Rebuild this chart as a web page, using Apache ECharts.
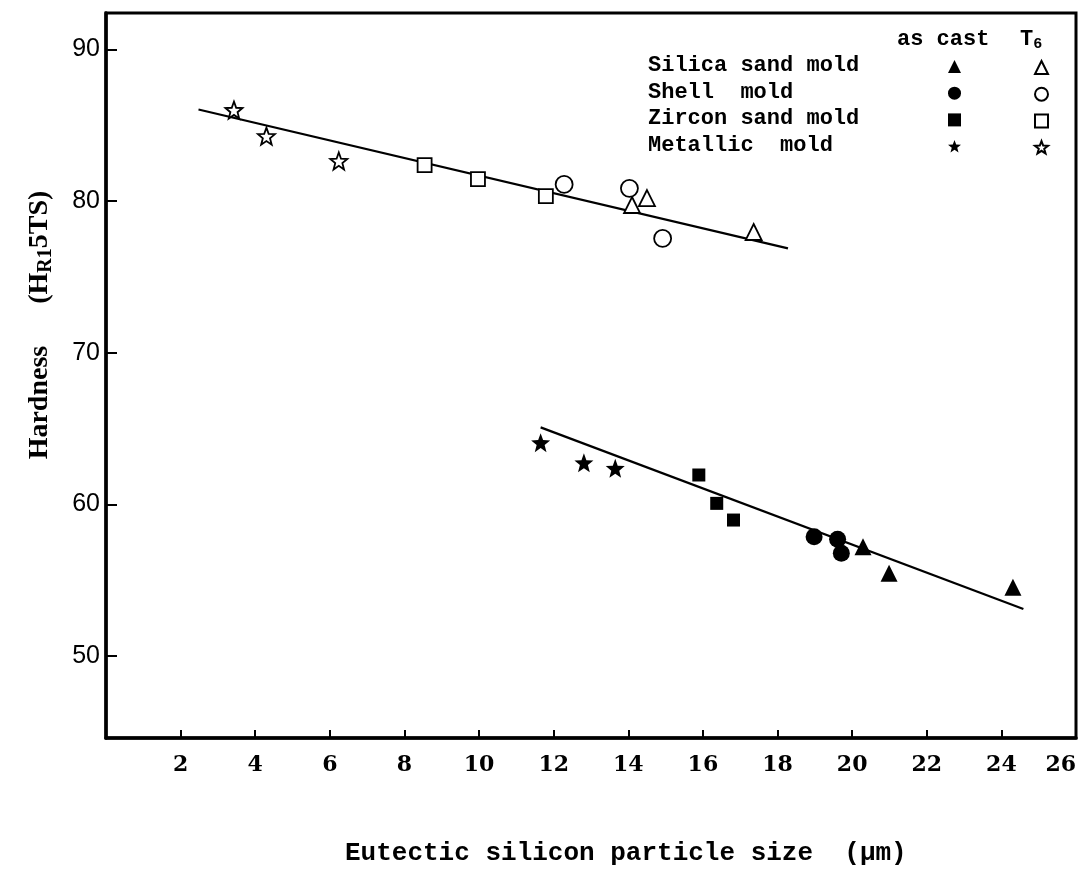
<!DOCTYPE html>
<html>
<head>
<meta charset="utf-8">
<script src="https://cdn.jsdelivr.net/npm/echarts@6/dist/echarts.min.js"></script>
<style>html,body{margin:0;padding:0;background:#fff;}#c{width:1080px;height:871px;}</style>
</head>
<body>
<div id="c"></div>
<script>
// ---- data ----
const xTicks = [2, 4, 6, 8, 10, 12, 14, 16, 18, 20, 22, 24, 26];
const yTicks = [50, 60, 70, 80, 90];
const moldNames = ['Silica sand mold', 'Shell  mold', 'Zircon sand mold', 'Metallic  mold'];

const asCastSilicaX = [20.29, 20.99, 24.31];
const asCastSilicaY = [57.21, 55.46, 54.54];
const asCastShellX = [18.98, 19.61, 19.71];
const asCastShellY = [57.87, 57.70, 56.78];
const asCastZirconX = [15.89, 16.37, 16.82];
const asCastZirconY = [61.94, 60.07, 58.97];
const asCastMetallicX = [11.65, 12.81, 13.65];
const asCastMetallicY = [64.07, 62.75, 62.38];

const t6SilicaX = [14.10, 14.50, 17.36];
const t6SilicaY = [79.74, 80.20, 77.96];
const t6ShellX = [12.28, 14.03, 14.92];
const t6ShellY = [81.10, 80.84, 77.54];
const t6ZirconX = [8.54, 9.97, 11.79];
const t6ZirconY = [82.37, 81.45, 80.33];
const t6MetallicX = [3.43, 4.30, 6.24];
const t6MetallicY = [86.00, 84.28, 82.64];

const fitT6X = [2.48, 18.28];
const fitT6Y = [86.04, 76.88];
const fitAsCastX = [11.65, 24.59];
const fitAsCastY = [65.08, 53.10];

// ---- helpers ----
function pairs(xs, ys) { return xs.map((x, i) => [x, ys[i]]); }
function starPath() {
  let d = '';
  for (let i = 0; i < 10; i++) {
    const a = -Math.PI / 2 + i * Math.PI / 5;
    const r = i % 2 ? 0.42 : 1;
    d += (i ? 'L' : 'M') + (r * Math.cos(a)).toFixed(3) + ' ' + (r * Math.sin(a)).toFixed(3);
  }
  return 'path://' + d + 'Z';
}
const STAR = starPath();
const filled = { color: '#000', opacity: 1 };
const hollow = { color: '#fff', borderColor: '#000', borderWidth: 1.8, opacity: 1 };
const symbolsAs = ['triangle', 'circle', 'rect', STAR];
const sizesAs = [17, 17, 13, 19];
const sizesT6 = [16, 17, 14, 17];
const asCastData = [
  pairs(asCastSilicaX, asCastSilicaY), pairs(asCastShellX, asCastShellY),
  pairs(asCastZirconX, asCastZirconY), pairs(asCastMetallicX, asCastMetallicY)
];
const t6Data = [
  pairs(t6SilicaX, t6SilicaY), pairs(t6ShellX, t6ShellY),
  pairs(t6ZirconX, t6ZirconY), pairs(t6MetallicX, t6MetallicY)
];
const t6Names = moldNames.map(n => n + ' T6');

const series = [
  { type: 'line', data: pairs(fitT6X, fitT6Y), symbol: 'none', lineStyle: { color: '#000', width: 2.2 }, z: 1, silent: true },
  { type: 'line', data: pairs(fitAsCastX, fitAsCastY), symbol: 'none', lineStyle: { color: '#000', width: 2.2 }, z: 1, silent: true }
];
moldNames.forEach((n, i) => {
  series.push({ type: 'scatter', name: n, data: asCastData[i], symbol: symbolsAs[i], symbolSize: sizesAs[i], itemStyle: filled, z: 3 });
  series.push({ type: 'scatter', name: t6Names[i], data: t6Data[i], symbol: symbolsAs[i], symbolSize: sizesT6[i], itemStyle: hollow, z: 3 });
});

const MONO = '"Liberation Mono", "DejaVu Sans Mono", monospace';
const legendRowsY = [66, 93, 119, 146];

const graphic = [
  { type: 'text', left: 897, top: 28, style: { text: 'as cast', font: 'bold 22px ' + MONO, fill: '#000' } },
  { type: 'text', left: 1020, top: 28, style: { text: '{a|T}{s|6}', rich: { a: { font: 'bold 22px ' + MONO, fill: '#000' }, s: { font: 'bold 15px ' + MONO, fill: '#000', padding: [10, 0, 0, 0] } } } },
  { type: 'text', left: 345, top: 840, style: { text: 'Eutectic silicon particle size  (\u03bcm)', font: 'bold 26px ' + MONO, fill: '#000' } },
  {
    type: 'text', x: 40, y: 325, rotation: Math.PI / 2,
    style: {
      text: '{m|Hardness      (H}{s|R1}{m|5TS)}', align: 'center', verticalAlign: 'middle',
      rich: { m: { font: 'bold 28px "Liberation Serif", serif', fill: '#000' }, s: { font: 'bold 20px "Liberation Serif", serif', fill: '#000', padding: [12, 0, 0, 0] } }
    }
  }
];
moldNames.forEach((n, i) => {
  graphic.push({ type: 'text', left: 648, top: legendRowsY[i] - 12, style: { text: n, font: 'bold 22px ' + MONO, fill: '#000' } });
});

const legendCommon = {
  orient: 'vertical', top: 60, padding: 0, itemWidth: 13, itemHeight: 13,
  formatter: () => '', textStyle: { fontSize: 6, lineHeight: 6 }, selectedMode: false
};

const chart = echarts.init(document.getElementById('c'), null, { renderer: 'canvas' });
chart.setOption({
  backgroundColor: '#fff',
  animation: false,
  grid: { left: 106, right: 4, top: 13, bottom: 133, outerBoundsMode: 'none', containLabel: false, show: true, borderColor: '#000', borderWidth: 3, backgroundColor: 'transparent' },
  legend: [
    Object.assign({ left: 948, data: moldNames, itemGap: 13.7 }, legendCommon),
    Object.assign({ left: 1034, data: t6Names, itemGap: 11.7 }, legendCommon)
  ],
  xAxis: {
    type: 'value', min: 0, max: 26,
    axisLine: { lineStyle: { color: '#000', width: 3.5 } },
    axisTick: { inside: true, length: 8, lineStyle: { color: '#000', width: 2 }, customValues: xTicks },
    axisLabel: { customValues: xTicks, alignMaxLabel: 'right', margin: 16, color: '#000', fontSize: 22, fontWeight: 'bold', fontFamily: '"DejaVu Serif", serif' },
    splitLine: { show: false }
  },
  yAxis: {
    type: 'value', min: 44.6, max: 92.4,
    axisLine: { show: true, lineStyle: { color: '#000', width: 3.5 } },
    axisTick: { show: true, inside: true, length: 11, lineStyle: { color: '#000', width: 2 }, customValues: yTicks },
    axisLabel: { customValues: yTicks, margin: 6, color: '#000', fontSize: 25, fontFamily: '"Liberation Sans", sans-serif' },
    splitLine: { show: false }
  },
  graphic: graphic,
  series: series
});
</script>
</body>
</html>
